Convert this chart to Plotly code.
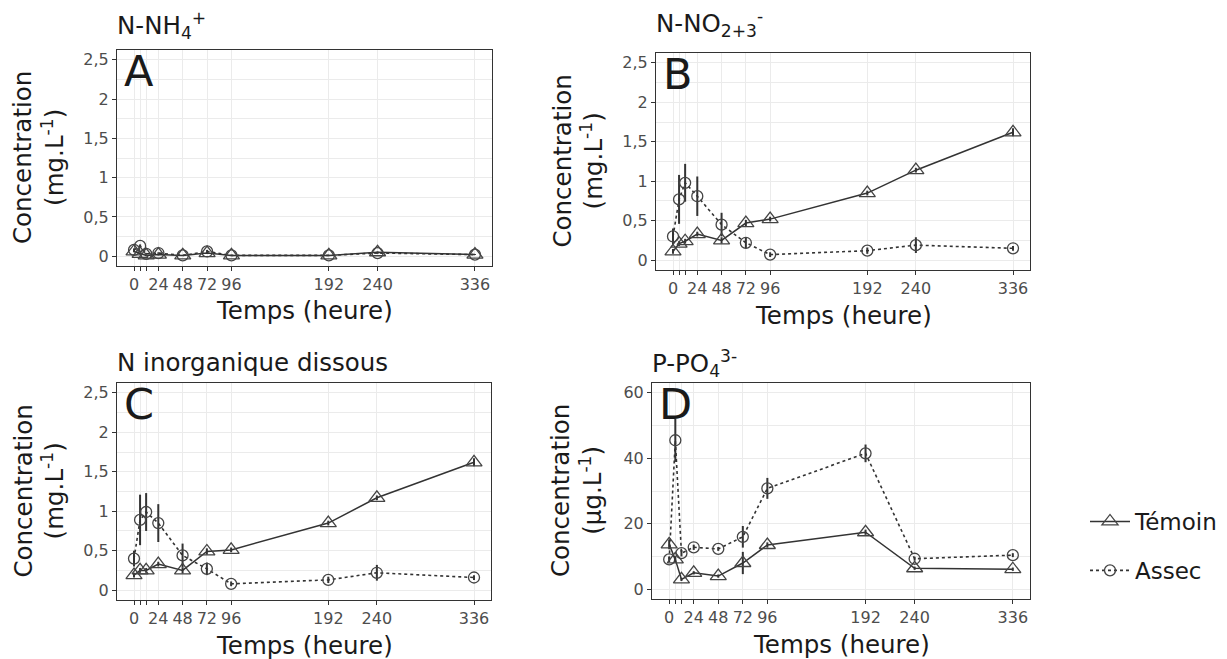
import plotly.graph_objects as go

# ---------------- data ----------------
times = [0, 6, 12, 24, 48, 72, 96, 192, 240, 336]
x_major = [0, 24, 48, 72, 96, 192, 240, 336]
x_major_text = ["0", "24", "48", "72", "96", "192", "240", "336"]
x_extra_ticks = [6, 12]
x_minor = [-6, -3, 3, 9, 18, 36, 60, 84, 144, 216, 288, 339, 342]

# Panel A : N-NH4+
A_temoin = [0.06, 0.03, 0.01, 0.02, 0.01, 0.04, 0.01, 0.01, 0.05, 0.02]
A_temoin_err = [0.01, 0.01, 0.01, 0.01, 0.005, 0.01, 0.005, 0.005, 0.01, 0.005]
A_assec = [0.08, 0.13, 0.03, 0.04, 0.01, 0.06, 0.01, 0.01, 0.04, 0.02]
A_assec_err = [0.02, 0.02, 0.01, 0.01, 0.005, 0.02, 0.005, 0.005, 0.01, 0.005]

# Panel B : N-NO2+3-
B_temoin = [0.11, 0.21, 0.24, 0.33, 0.25, 0.47, 0.52, 0.85, 1.14, 1.62]
B_temoin_err = [0.03, 0.03, 0.03, 0.03, 0.04, 0.04, 0.03, 0.03, 0.03, 0.05]
B_assec = [0.30, 0.77, 0.98, 0.81, 0.45, 0.22, 0.07, 0.12, 0.19, 0.15]
B_assec_err = [0.10, 0.31, 0.24, 0.25, 0.15, 0.07, 0.03, 0.04, 0.10, 0.03]

# Panel C : N inorganique dissous
C_temoin = [0.19, 0.25, 0.25, 0.33, 0.25, 0.49, 0.51, 0.85, 1.17, 1.62]
C_temoin_err = [0.03, 0.03, 0.03, 0.03, 0.04, 0.04, 0.03, 0.03, 0.03, 0.05]
C_assec = [0.40, 0.89, 0.99, 0.85, 0.44, 0.27, 0.08, 0.13, 0.22, 0.16]
C_assec_err = [0.10, 0.32, 0.24, 0.24, 0.15, 0.08, 0.03, 0.04, 0.10, 0.03]

# Panel D : P-PO4 3-
D_temoin = [13.7, 9.1, 3.0, 5.0, 4.0, 8.0, 13.5, 17.4, 6.4, 6.1]
D_temoin_err = [1.5, 1.0, 0.5, 0.5, 0.5, 3.4, 0.8, 0.8, 0.5, 0.5]
D_assec = [9.1, 45.5, 11.0, 12.8, 12.3, 16.0, 30.8, 41.5, 9.3, 10.4]
D_assec_err = [0.8, 6.6, 1.0, 0.8, 0.6, 3.3, 3.2, 2.7, 0.6, 0.6]

panel_titles = ["N-NH<sub>4</sub><sup>+</sup>",
                "N-NO<sub>2+3</sub><sup>-</sup>",
                "N inorganique dissous",
                "P-PO<sub>4</sub><sup>3-</sup>"]
panel_letters = ["A", "B", "C", "D"]
y_titles = ["Concentration<br>(mg.L<sup>-1</sup>)",
            "Concentration<br>(mg.L<sup>-1</sup>)",
            "Concentration<br>(mg.L<sup>-1</sup>)",
            "Concentration<br>(µg.L<sup>-1</sup>)"]
x_title = "Temps (heure)"
series_names = ["Témoin", "Assec"]

mg_ticks = [0, 0.5, 1, 1.5, 2, 2.5]
mg_ticktext = ["0", "0,5", "1", "1,5", "2", "2,5"]
mg_minor = [0.25, 0.75, 1.25, 1.75, 2.25]
ug_ticks = [0, 20, 40, 60]
ug_ticktext = ["0", "20", "40", "60"]
ug_minor = [10, 30, 50]

# ---------------- layout geometry (window pixels) ----------------
OFF = 0                     # body margin removed by post_script below
W, H = 1227, 659
# (left, right, top, bottom) of each panel in window pixels
boxes = [(117, 492, 50, 266), (656, 1030, 53, 270),
         (117, 491, 383, 600), (652, 1030, 383, 599)]
ytitle_offset = [78, 78, 78, 75]
title_baseline = [39, 37, 373, 377]

def fx(px):
    return (px - OFF) / W
def fy(py):
    return 1 - (py - OFF) / H

data_panels = [
    (A_temoin, A_temoin_err, A_assec, A_assec_err, "mg"),
    (B_temoin, B_temoin_err, B_assec, B_assec_err, "mg"),
    (C_temoin, C_temoin_err, C_assec, C_assec_err, "mg"),
    (D_temoin, D_temoin_err, D_assec, D_assec_err, "ug"),
]

FONT = "DejaVu Sans"
DARK = "#333333"
TXT = "#1a1a1a"
GRID = "#ebebeb"
TITLE_SIZE = 24.5
AXT_SIZE = 24.5
TICK_SIZE = 16

fig = go.Figure()
layout = dict(
    width=W, height=H,
    margin=dict(l=0, r=0, t=0, b=0),
    paper_bgcolor="white", plot_bgcolor="white",
    font=dict(family=FONT, color=TXT),
    showlegend=True,
    legend=dict(x=fx(1085), y=fy(500), xanchor="left", yanchor="top",
                font=dict(size=23, family=FONT, color=TXT), itemwidth=40,
                bgcolor="rgba(0,0,0,0)", tracegroupgap=16),
)

annotations = []
xr = [-16.8, 352.8]

for i, (box, pdata) in enumerate(zip(boxes, data_panels)):
    L, R, T, B = box
    idx = "" if i == 0 else str(i + 1)
    ovl = str(i + 5)
    xa, ya = "x" + idx, "y" + idx
    tem, tem_e, ass, ass_e, unit = pdata
    if unit == "mg":
        yr = [-0.125, 2.625]
        ytv, ytt, ymin = mg_ticks, mg_ticktext, mg_minor
    else:
        yr = [-3, 63]
        ytv, ytt, ymin = ug_ticks, ug_ticktext, ug_minor

    # Assec (dotted, circles)
    fig.add_trace(go.Scatter(
        x=times, y=ass, xaxis=xa, yaxis=ya, name=series_names[1],
        legendgroup="assec", showlegend=(i == 0), legendrank=2,
        mode="lines+markers",
        line=dict(color=DARK, width=1.6, dash="3px,3px"),
        marker=dict(symbol="circle-open", size=11, color="#444444",
                    line=dict(width=1.3, color="#444444")),
        error_y=dict(type="data", array=ass_e, visible=True, width=0,
                     thickness=2, color=DARK),
    ))
    # Témoin (solid, triangles)
    fig.add_trace(go.Scatter(
        x=times, y=tem, xaxis=xa, yaxis=ya, name=series_names[0],
        legendgroup="temoin", showlegend=(i == 0), legendrank=1,
        mode="lines+markers",
        line=dict(color=DARK, width=1.5),
        marker=dict(symbol="triangle-up-open", size=14, color="#444444",
                    line=dict(width=1.3, color="#444444")),
        error_y=dict(type="data", array=tem_e, visible=True, width=0,
                     thickness=2, color=DARK),
    ))

    # overlay axis only used for the thin minor vertical grid lines
    layout["xaxis" + ovl] = dict(
        overlaying=xa, anchor=ya, range=xr, domain=[fx(L), fx(R)],
        tickmode="array", tickvals=x_minor, showticklabels=False, ticks="",
        showgrid=True, gridcolor=GRID, gridwidth=0.6, showline=False,
        zeroline=False, automargin=False, layer="below traces",
    )
    layout["xaxis" + idx] = dict(
        domain=[fx(L), fx(R)], anchor=ya, range=xr,
        tickmode="array", tickvals=x_major, ticktext=x_major_text,
        ticks="outside", ticklen=4, tickwidth=1.1, tickcolor=DARK,
        tickfont=dict(size=TICK_SIZE, color="#4d4d4d", family=FONT),
        showgrid=True, gridcolor=GRID, gridwidth=1.1,
        minor=dict(tickvals=x_extra_ticks, showgrid=True, gridcolor=GRID,
                   gridwidth=1.1, ticks="outside", ticklen=4, tickwidth=1.1,
                   tickcolor=DARK),
        showline=True, linecolor=DARK, linewidth=1.1, mirror=True,
        zeroline=False, automargin=False,
    )
    layout["yaxis" + idx] = dict(
        domain=[fy(B), fy(T)], anchor=xa, range=yr,
        tickmode="array", tickvals=ytv, ticktext=ytt,
        ticks="outside", ticklen=4, tickwidth=1.1, tickcolor=DARK,
        tickfont=dict(size=TICK_SIZE, color="#4d4d4d", family=FONT),
        showgrid=True, gridcolor=GRID, gridwidth=1.1,
        minor=dict(tickvals=ymin, showgrid=True, gridcolor=GRID, gridwidth=0.6, ticks=""),
        showline=True, linecolor=DARK, linewidth=1.1, mirror=True,
        zeroline=False, automargin=False,
    )
    # panel title
    annotations.append(dict(
        text=panel_titles[i], xref="paper", yref="paper",
        x=fx(L - 2), y=fy(title_baseline[i] + 6), xanchor="left", yanchor="bottom",
        showarrow=False, font=dict(size=TITLE_SIZE, color=TXT, family=FONT),
    ))
    # panel letter
    annotations.append(dict(
        text=panel_letters[i], xref="paper", yref="paper",
        x=fx(L + 5), y=fy(T - 6), xanchor="left", yanchor="top",
        showarrow=False, font=dict(size=43, color=TXT, family=FONT),
    ))
    # y axis title
    annotations.append(dict(
        text=y_titles[i], xref="paper", yref="paper",
        x=fx(L - ytitle_offset[i]), y=fy((T + B) / 2), xanchor="center", yanchor="middle",
        textangle=-90, showarrow=False,
        font=dict(size=AXT_SIZE, color=TXT, family=FONT),
    ))
    # x axis title
    annotations.append(dict(
        text=x_title, xref="paper", yref="paper",
        x=fx((L + R) / 2), y=fy(B + 45), xanchor="center", yanchor="middle",
        showarrow=False, font=dict(size=AXT_SIZE, color=TXT, family=FONT),
    ))

layout["annotations"] = annotations
fig.update_layout(**layout)
fig.write_html(
    "out.html",
    config={"displayModeBar": False},
    post_script="document.documentElement.style.margin='0';"
                "document.body.style.margin='0';"
                "document.body.style.overflow='hidden';",
)
